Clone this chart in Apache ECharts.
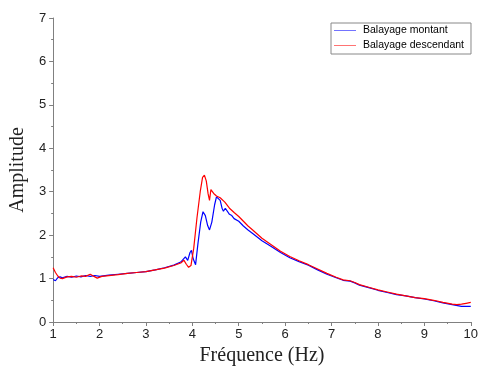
<!DOCTYPE html>
<html>
<head>
<meta charset="utf-8">
<script src="https://cdn.jsdelivr.net/npm/echarts@6/dist/echarts.min.js"></script>
<style>html,body{margin:0;padding:0;background:#fff;}#c{width:481px;height:371px;}</style>
</head>
<body>
<div id="c"></div>
<script>
const seriesNames = ['Balayage montant', 'Balayage descendant'];
const seriesColors = ['#0000ff', '#ff0000'];
const xTicks = [1,2,3,4,5,6,7,8,9,10];
const yTicks = [0,1,2,3,4,5,6,7];

const upFreq = [1.00,1.05,1.10,1.15,1.20,1.30,1.40,1.50,1.60,1.70,1.80,1.90,2.00,2.20,2.40,2.60,2.80,3.00,3.20,3.40,3.60,3.75,3.85,3.90,3.95,3.98,4.02,4.07,4.12,4.18,4.23,4.28,4.33,4.37,4.42,4.48,4.52,4.56,4.60,4.64,4.67,4.71,4.75,4.80,4.85,4.90,5.00,5.10,5.20,5.30,5.50,5.70,5.90,6.10,6.30,6.50,6.70,6.90,7.10,7.25,7.40,7.50,7.60,7.80,8.00,8.20,8.40,8.60,8.80,9.00,9.20,9.40,9.60,9.80,10.00];
const upAmp  = [0.98,0.95,1.02,1.04,1.02,1.05,1.03,1.06,1.04,1.07,1.05,1.07,1.05,1.08,1.10,1.12,1.14,1.16,1.20,1.25,1.31,1.38,1.50,1.42,1.60,1.65,1.45,1.32,1.80,2.30,2.54,2.45,2.22,2.12,2.30,2.70,2.88,2.92,2.80,2.62,2.55,2.62,2.58,2.48,2.45,2.38,2.32,2.21,2.12,2.04,1.87,1.74,1.60,1.48,1.39,1.31,1.20,1.10,1.02,0.96,0.94,0.90,0.85,0.79,0.73,0.68,0.63,0.60,0.56,0.53,0.49,0.44,0.40,0.36,0.36];

const downFreq = [1.00,1.05,1.10,1.15,1.20,1.30,1.40,1.50,1.60,1.70,1.80,1.88,1.95,2.05,2.20,2.40,2.60,2.80,3.00,3.20,3.40,3.60,3.75,3.82,3.87,3.92,3.97,4.03,4.10,4.17,4.22,4.26,4.30,4.34,4.37,4.40,4.42,4.46,4.52,4.60,4.70,4.80,4.90,5.00,5.10,5.20,5.30,5.50,5.70,5.90,6.10,6.30,6.50,6.70,6.90,7.10,7.25,7.40,7.50,7.60,7.80,8.00,8.20,8.40,8.60,8.80,9.00,9.20,9.40,9.60,9.70,9.80,9.90,10.00];
const downAmp  = [1.25,1.14,1.06,1.01,1.00,1.04,1.05,1.03,1.06,1.05,1.10,1.05,1.01,1.05,1.07,1.09,1.12,1.14,1.16,1.20,1.24,1.30,1.36,1.42,1.33,1.26,1.30,1.70,2.40,3.00,3.33,3.38,3.25,2.95,2.80,3.05,3.08,2.96,2.90,2.86,2.76,2.62,2.52,2.43,2.32,2.21,2.12,1.93,1.78,1.63,1.51,1.41,1.32,1.22,1.12,1.03,0.97,0.95,0.91,0.86,0.80,0.74,0.69,0.64,0.60,0.56,0.54,0.50,0.45,0.41,0.40,0.41,0.43,0.45];

const pairs = (xs, ys) => xs.map((x, i) => [x, ys[i]]);

const chart = echarts.init(document.getElementById('c'), null, {renderer: 'canvas'});
const axisColor = '#808080';
const labelFont = {fontFamily: 'Liberation Sans, Arial, sans-serif', fontSize: 13, color: '#222'};
chart.setOption({
  animation: false,
  backgroundColor: '#fff',
  grid: {left: 45, right: 9, top: 18, bottom: 49, containLabel: false},
  legend: {
    orient: 'vertical', left: 331, top: 23,
    data: seriesNames.map((n, i) => ({
      name: n, icon: 'rect',
      itemStyle: {color: seriesColors[i], opacity: 0.55, borderWidth: 0},
      lineStyle: {width: 0}
    })),
    backgroundColor: '#fff', borderColor: '#888', borderWidth: 1, borderRadius: 0,
    padding: [1, 7, 2, 3], itemGap: 2, itemWidth: 22, itemHeight: 1,
    textStyle: {fontFamily: 'Liberation Sans, Arial, sans-serif', fontSize: 10.5, lineHeight: 13, color: '#000', padding: [0,0,0,2]}
  },
  xAxis: {
    type: 'value', min: xTicks[0], max: xTicks[xTicks.length-1], interval: 1,
    name: 'Fréquence (Hz)', nameLocation: 'middle', nameGap: 18,
    nameTextStyle: {fontFamily: 'Liberation Serif, Times New Roman, serif', fontSize: 20, color: '#222'},
    axisLine: {lineStyle: {color: axisColor, width: 1}},
    axisTick: {length: 4, lineStyle: {color: axisColor}},
    minorTick: {show: true, splitNumber: 2, length: 2, lineStyle: {color: axisColor}},
    splitLine: {show: false},
    axisLabel: Object.assign({margin: 6}, labelFont)
  },
  yAxis: {
    type: 'value', min: yTicks[0], max: yTicks[yTicks.length-1], interval: 1,
    name: 'Amplitude', nameLocation: 'middle', nameGap: 19,
    nameTextStyle: {fontFamily: 'Liberation Serif, Times New Roman, serif', fontSize: 20, color: '#222'},
    axisLine: {show: true, lineStyle: {color: axisColor, width: 1}},
    axisTick: {show: true, length: 4, lineStyle: {color: axisColor}},
    minorTick: {show: true, splitNumber: 2, length: 2, lineStyle: {color: axisColor}},
    splitLine: {show: false},
    axisLabel: Object.assign({margin: 7}, labelFont)
  },
  series: [
    {name: seriesNames[0], type: 'line', data: pairs(upFreq, upAmp), showSymbol: false, symbol: 'none',
     lineStyle: {color: seriesColors[0], width: 1.2}, itemStyle: {color: seriesColors[0]}},
    {name: seriesNames[1], type: 'line', data: pairs(downFreq, downAmp), showSymbol: false, symbol: 'none',
     lineStyle: {color: seriesColors[1], width: 1.2}, itemStyle: {color: seriesColors[1]}}
  ]
});
</script>
</body>
</html>
